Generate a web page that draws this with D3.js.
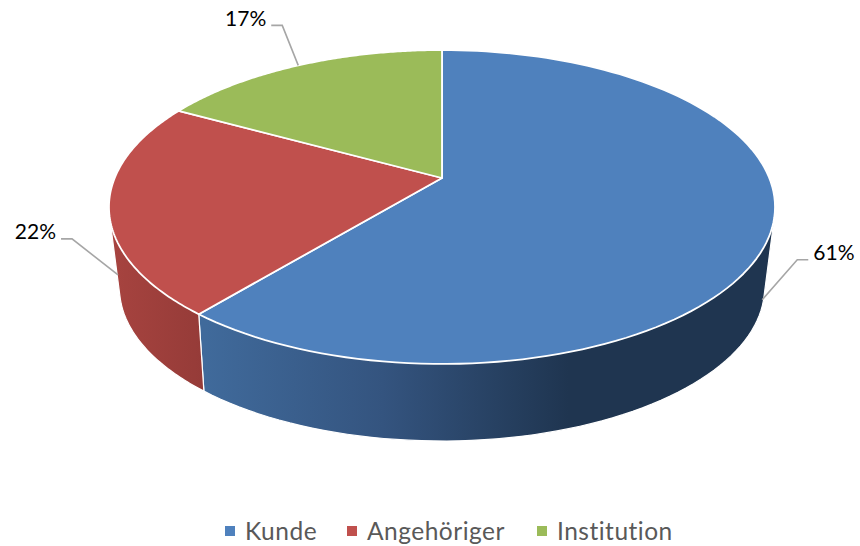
<!DOCTYPE html>
<html>
<head>
<meta charset="utf-8">
<script src="https://cdn.jsdelivr.net/npm/d3@7"></script>
<style>
    html, body { margin: 0; background: #fff; }
    text { font-family: Lato, "Open Sans", sans-serif; }
</style>
</head>
<body>
<div id="chart"></div>
<script>
const categories = ['Kunde', 'Angehöriger', 'Institution'];
const shares = [61, 22, 17];
const topColors = ['#4F81BD', '#C0504D', '#9BBB59'];

const width = 860, height = 546;

// pie plane seen in perspective, top rim and bottom rim
const topRim = { x: 442, y: 178, a: 327.3, b: 151.6, tilt: 0.1847 };
const bottomRim = { x: 442, y: 257.25, a: 316, b: 147, tilt: 0.2 };

const project = (rim, angle) => {
    const u = Math.sin(angle), v = Math.cos(angle);
    const w = 1 + rim.tilt * v;
    return [rim.x + rim.a * u / w, rim.y - rim.b * v / w];
};

const arcPoints = (rim, from, to) => d3.range(0, 121)
    .map(i => project(rim, from + (to - from) * i / 120));

const line = d3.line();

const svg = d3.select('#chart').append('svg')
    .attr('width', width)
    .attr('height', height)
    .style('display', 'block');

const defs = svg.append('defs');

const gradient = (id, x1, x2, stops) => {
    const g = defs.append('linearGradient')
        .attr('id', id)
        .attr('gradientUnits', 'userSpaceOnUse')
        .attr('x1', x1).attr('x2', x2).attr('y1', 0).attr('y2', 0);
    stops.forEach(([o, c]) => g.append('stop').attr('offset', o).attr('stop-color', c));
};
gradient('wall0', 205, 600, [[0, '#406A9B'], [0.45, '#34547F'], [0.92, '#1F3550'], [1, '#1F3550']]);
gradient('wall1', 115, 205, [[0, '#A6433F'], [1, '#953B38']]);

const pie = d3.pie().value(d => d.value).sort(null);
const slices = pie(categories.map((name, i) => ({ name, value: shares[i] })));
const color = d3.scaleOrdinal().domain(categories).range(topColors);

// walls first, the top surface covers the hidden part
svg.append('g').selectAll('path')
    .data(slices.slice(0, 2))
    .join('path')
    .attr('d', d => line(d3.polygonHull([
        ...arcPoints(topRim, d.startAngle, d.endAngle),
        ...arcPoints(bottomRim, d.startAngle, d.endAngle)
    ])) + 'Z')
    .attr('fill', (d, i) => `url(#wall${i})`)
    .attr('stroke', '#fff')
    .attr('stroke-width', 1.2);

svg.append('g').selectAll('path')
    .data(slices)
    .join('path')
    .attr('d', d => line([
        [topRim.x, topRim.y],
        ...arcPoints(topRim, d.startAngle, d.endAngle)
    ]) + 'Z')
    .attr('fill', d => color(d.data.name))
    .attr('stroke', '#fff')
    .attr('stroke-width', 1.8)
    .attr('stroke-linejoin', 'round');

// leader lines start at the slice middle, on the wall when it faces us
const labelLayout = [
    { dx: 35, dy: -40, side: 1 },
    { dx: -46, dy: -36, side: -1 },
    { dx: -16, dy: -40, side: -1 }
];

const labels = svg.append('g');
slices.forEach((d, i) => {
    const mid = (d.startAngle + d.endAngle) / 2;
    const onWall = Math.cos(mid) < 0;
    const a = project(topRim, mid), b = project(bottomRim, mid);
    const t = onWall ? 0.86 : 0;
    const start = [a[0] + (b[0] - a[0]) * t, a[1] + (b[1] - a[1]) * t];
    const l = labelLayout[i];
    const elbow = [start[0] + l.dx, start[1] + l.dy];
    const end = [elbow[0] + l.side * 11, elbow[1]];

    labels.append('path')
        .attr('d', line([start, elbow, end]))
        .attr('fill', 'none')
        .attr('stroke', '#A6A6A6')
        .attr('stroke-width', 1.6);

    labels.append('text')
        .attr('x', end[0] + l.side * 5)
        .attr('y', elbow[1] - 7)
        .attr('dy', '0.35em')
        .attr('text-anchor', l.side > 0 ? 'start' : 'end')
        .attr('font-size', 21)
        .attr('fill', '#000')
        .text(d.data.value + '%');
});

// legend
const legendX = d3.scaleOrdinal().domain(categories).range([225, 347, 537]);
const legend = svg.append('g').selectAll('g')
    .data(categories)
    .join('g')
    .attr('transform', d => `translate(${legendX(d)},531)`);

legend.append('rect')
    .attr('y', -5)
    .attr('width', 10)
    .attr('height', 10)
    .attr('fill', d => color(d));

legend.append('text')
    .attr('x', 20)
    .attr('dy', '0.35em')
    .attr('font-size', 24.5)
    .attr('letter-spacing', 0.5)
    .attr('fill', '#595959')
    .text(d => d);
</script>
</body>
</html>
